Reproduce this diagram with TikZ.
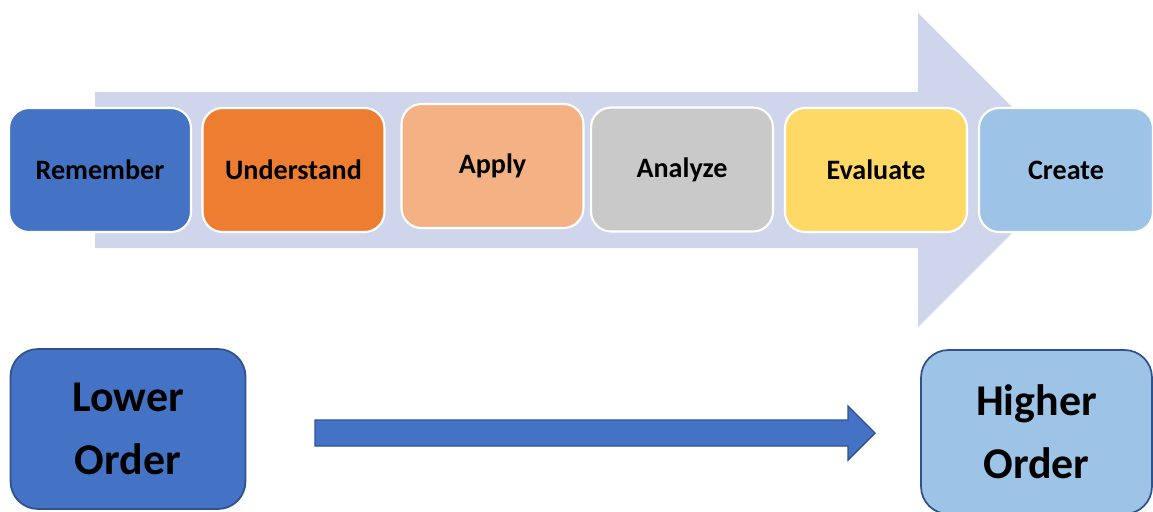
\documentclass[tikz,border=0pt]{standalone}
\usepackage{fontspec}
\setmainfont{Carlito}
\usepackage{tikz}
\definecolor{bandblue}{HTML}{CFD5EA}
\definecolor{darkblue}{HTML}{4472C4}
\definecolor{edgeblue}{HTML}{2F528F}
\definecolor{lightblue}{HTML}{9DC3E6}
\definecolor{darkorange}{HTML}{ED7D31}
\definecolor{lightorange}{HTML}{F4B183}
\definecolor{midgray}{HTML}{C9C9C9}
\definecolor{gold}{HTML}{FFD966}

\begin{document}
\begin{tikzpicture}[x=0.02cm, y=-0.02cm,
    level/.style={shape=rectangle, rounded corners=0.4cm, draw=white, line width=1.2pt, minimum width=3.64cm, minimum height=2.48cm, font=\fontsize{16}{19}\selectfont\bfseries},
    order/.style={shape=rectangle, rounded corners=0.55cm, draw=edgeblue, line width=1pt, minimum width=4.7cm, minimum height=3.2cm, align=center, font=\fontsize{25}{36}\selectfont\bfseries}]
    \useasboundingbox (0,0) rectangle (1153,511);
    \clip (0,0) rectangle (1153,511);
    \fill[bandblue] (95,92) -- (918,92) -- (918,13) -- (1075,170) -- (918,327) -- (918,248) -- (95,248) -- cycle;
    \node[level, fill=darkblue] at (100,170) (L1) {Remember};
    \node[level, fill=darkorange] at (293.5,170) (L2) {Understand};
    \node[level, fill=lightorange] at (492.5,166) (L3) {Apply};
    \node[level, fill=midgray] at (682,169.5) (L4) {Analyze};
    \node[level, fill=gold] at (876,170) (L5) {Evaluate};
    \node[level, fill=lightblue, minimum width=3.48cm] at (1066,170) (L6) {Create};
    \node[order, fill=darkblue] at (128,429) (Lower) {Lower\\Order};
    \node[order, fill=lightblue, minimum width=4.62cm, minimum height=3.28cm] at (1036.5,432) (Higher) {Higher\\Order};
    \coordinate (FlowStart) at (315,433);
    \coordinate (FlowEnd) at (875,433);
    \filldraw[fill=darkblue, draw=edgeblue, line width=0.8pt] (FlowStart) ++(0,-13) -- ++(533,0) -- ++(0,-14) -- (FlowEnd) -- ++(-27,27) -- ++(0,-14) -- ++(-533,0) -- cycle;
\end{tikzpicture}
\end{document}
